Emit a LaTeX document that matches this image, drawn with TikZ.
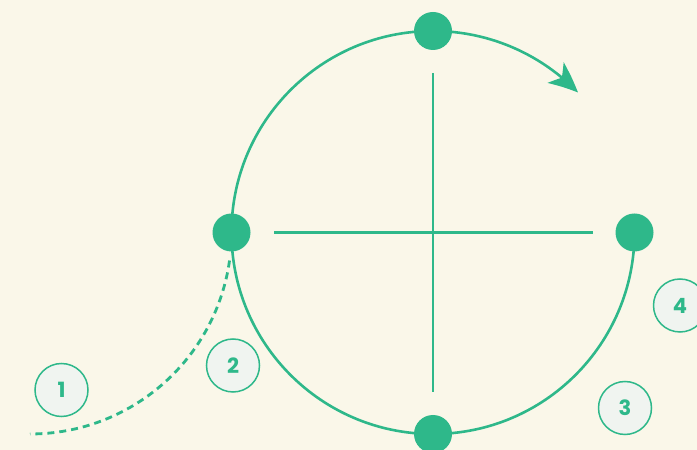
\documentclass[tikz,border=0pt]{standalone}
\usepackage{fontspec}
\setmainfont{Poppins}
\usetikzlibrary{arrows.meta,bending,calc}
\definecolor{bg}{HTML}{FAF7E9}
\definecolor{grn}{HTML}{2EB88A}
\definecolor{badgefill}{HTML}{F0F4F0}
\tikzset{
  dotnode/.style={circle,fill=grn,inner sep=0pt,minimum size=38pt},
  badge/.style={circle,fill=badgefill,draw=grn,line width=1.5pt,minimum size=53pt,inner sep=0pt,text=grn,font=\fontsize{21}{21}\selectfont\bfseries},
  ring/.style={draw=grn,line width=2.6pt},
  crossline/.style={draw=grn,line width=2.6pt},
  dashpath/.style={draw=grn,line width=2.8pt,dash pattern=on 7pt off 5pt}
}
\begin{document}
\begin{tikzpicture}[x=1pt,y=1pt]
\fill[bg] (0,0) rectangle (697,450);
\useasboundingbox (0,0) rectangle (697,450);
\def\R{201.5}
\coordinate (C) at (433,217.5);
\coordinate (D) at (30,217.5);
% circle: from right, clockwise round to 44 degrees
\draw[ring,-{Stealth[length=30pt,width=26pt,inset=8pt,bend]}] ($(C)+(0:\R)$) arc[start angle=0,end angle=-316,radius=\R];
% dashed approach
\draw[dashpath] ($(D)+(-8:\R)$) arc[start angle=-8,end angle=-90,radius=\R];
% cross
\coordinate (vt) at (433,377);
\coordinate (vb) at (433,58);
\coordinate (hl) at (274,217.5);
\coordinate (hr) at (593,217.5);
\draw[crossline] (vt) -- (vb);
\draw[crossline] (hl) -- (hr);
% dots
\node[dotnode] (top) at ($(C)+(90:\R)$) {};
\node[dotnode] (right) at ($(C)+(0:\R)$) {};
\node[dotnode] (bottom) at ($(C)+(-90:\R)$) {};
\node[dotnode] (left) at ($(C)+(180:\R)$) {};
% badges
\node[badge] (b1) at (61.5,60) {1};
\node[badge] (b2) at (233,84.5) {2};
\node[badge] (b3) at (625,42) {3};
\node[badge] (b4) at (680,144.5) {4};
\end{tikzpicture}
\end{document}
